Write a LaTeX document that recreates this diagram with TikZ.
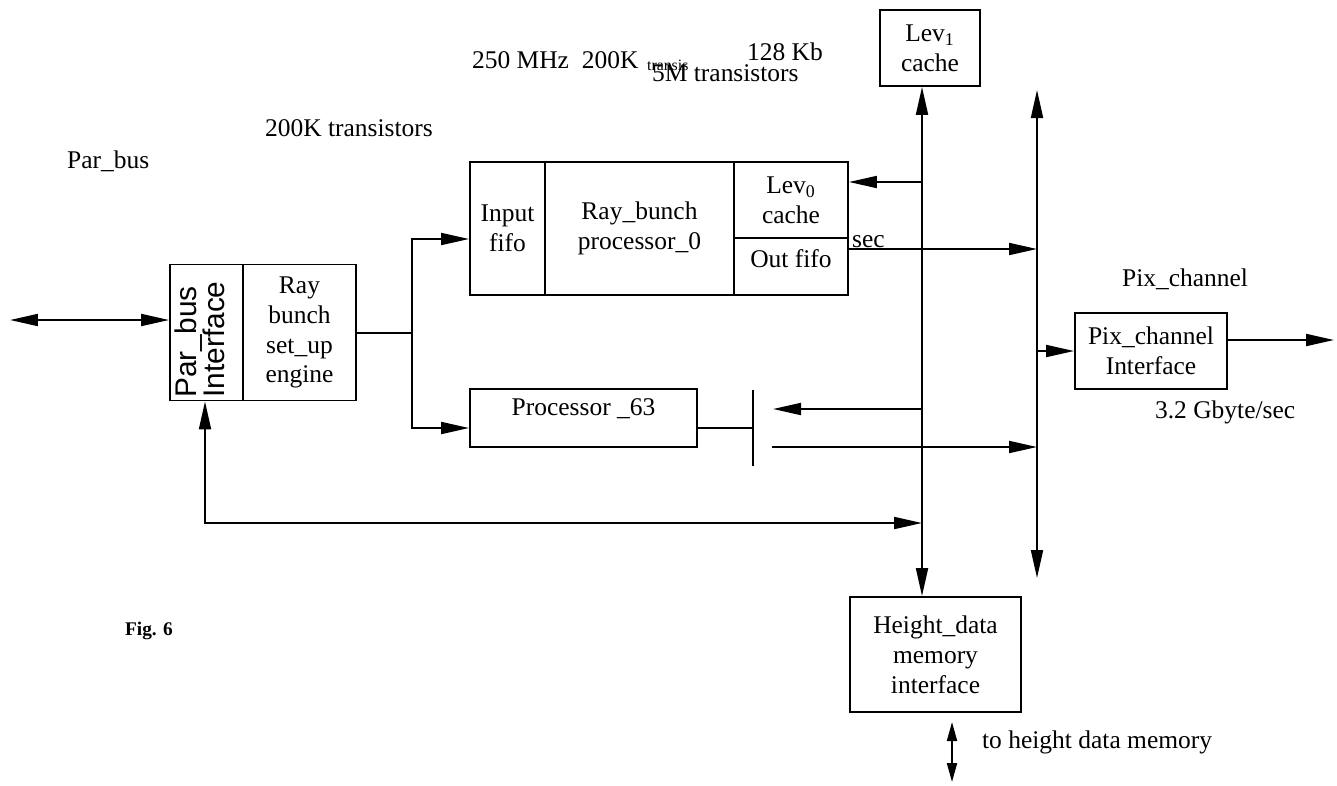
\documentclass[tikz,border=0pt]{standalone}
\usepackage{fontspec}
\setmainfont{Liberation Serif}
\setsansfont{Liberation Sans}
\usetikzlibrary{arrows.meta,positioning}

\begin{document}
\begin{tikzpicture}[x=0.02cm,y=-0.02cm,
  every node/.style={inner sep=1pt,font=\fontsize{14.5}{17}\selectfont},
  blk/.style={draw,line width=1.1pt,align=center,inner sep=0pt},
  lab/.style={anchor=base west},
  wire/.style={line width=1.1pt},
  conn/.style={wire,-{Triangle[length=5.6mm,width=2.4mm]}},
  dconn/.style={wire,{Triangle[length=5.6mm,width=2.4mm]}-{Triangle[length=5.6mm,width=2.4mm]}},
  sconn/.style={wire,{Triangle[length=3.8mm,width=2mm]}-{Triangle[length=3.8mm,width=2mm]}},
]
  \useasboundingbox (0,0) rectangle (1337,785);
  % ============ interface and set-up engine ============
  \node[blk,minimum width=1.46cm,minimum height=2.72cm] (pbi) at (206.5,332.5) {};
  \node[rotate=90,anchor=west,align=left,inner sep=0pt,font=\sffamily\fontsize{17}{16}\selectfont] (pbitxt) at (200,398) {Par\_bus\\Interface};
  \node[blk,minimum width=2.26cm,minimum height=2.72cm] (rbe) at (299.5,332.5) {Ray\\bunch\\set\_up\\engine};
  % ============ processor 0 ============
  \node[blk,minimum width=1.5cm,minimum height=2.66cm] (infifo) at (507.5,228.5) {Input\\fifo};
  \node[blk,minimum width=3.78cm,minimum height=2.66cm] (rbp) at (639.5,228.5) {Ray\_bunch\\processor\_0};
  \node[blk,minimum width=2.28cm,minimum height=1.52cm] (levz) at (791,200) {Lev\textsubscript{0}\\cache};
  \node[blk,minimum width=2.28cm,minimum height=1.14cm,text depth=9pt] (outf) at (791,266.5) {Out fifo};
  % ============ processor 63 ============
  \node[blk,minimum width=4.54cm,minimum height=1.16cm,text depth=12pt] (pstz) at (583.5,418) {Processor \_63};
  % ============ caches and interfaces ============
  \node[blk,minimum width=2cm,minimum height=1.52cm] (levone) at (930,48) {Lev\textsubscript{1}\\cache};
  \node[blk,minimum width=3.04cm,minimum height=1.52cm] (pix) at (1151,351) {Pix\_channel\\Interface};
  \node[blk,minimum width=3.42cm,minimum height=2.3cm] (hdm) at (935.5,654.5) {Height\_data\\memory\\interface};
  % bus points
  \coordinate (parend) at (10,320);
  \coordinate (fork) at (412,333);
  \coordinate (busA) at (922,0);
  \coordinate (busB) at (1037,0);
  \coordinate (busBtop) at (1037,90);
  \coordinate (busBbot) at (1037,578);
  \coordinate (levin) at (922,182);
  \coordinate (outin) at (1037,249);
  \coordinate (barT) at (753,390);
  \coordinate (barB) at (753,466);
  \coordinate (pline) at ([yshift=-0.2cm]pstz.east);
  \coordinate (pin) at (922,409);
  \coordinate (pinend) at (773,409);
  \coordinate (pout) at (772,447);
  \coordinate (poutend) at (1037,447);
  \coordinate (fbk) at (205,523);
  \coordinate (fbkend) at (922,523);
  \coordinate (pixout) at (1334,340);
  \coordinate (memT) at (952,722);
  \coordinate (memB) at (952,782);
  % ============ connectors ============
  \draw[dconn] (parend) -- (pbi.west |- parend);
  \draw[wire] (rbe.east |- fork) -- (fork);
  \draw[conn] (fork) |- ([yshift=-0.21cm]infifo.west);
  \draw[conn] (fork) |- ([yshift=-0.2cm]pstz.west);
  \draw[conn] (levin) -- (levin -| levz.east);
  \draw[conn] (outf.east |- outin) -- (outin);
  \draw[wire] (pline) -- (pline -| barT);
  \draw[wire] (barT) -- (barB);
  \draw[conn] (pin) -- (pinend);
  \draw[conn] (pout) -- (poutend);
  \draw[dconn] (levone.south -| busA) -- (hdm.north -| busA);
  \draw[dconn] (busBtop) -- (busBbot);
  \draw[conn] (busB |- pix.west) -- (pix.west);
  \draw[conn] (pix.east |- pixout) -- (pixout);
  \draw[dconn] (pbi.south -| fbk) |- (fbkend);
  \draw[sconn] (memT) -- (memB);
  % ============ labels ============
  \node[lab] (secl) at (850,247) {sec};
  \node[lab] (parlab) at (65,168) {Par\_bus};
  \node[lab] (trlab) at (263,136) {200K transistors};
  \node[lab] (mhz) at (470,68) {250 MHz\ \ 200K};
  \node[lab,font=\fontsize{9}{10}\selectfont] (tiny) at (645,70) {transis};
  \node[lab] (kb) at (745,60) {128 Kb};
  \node[lab] (fivem) at (650,81) {5M transistors};
  \node[lab] (pixlab) at (1120,286) {Pix\_channel};
  \node[lab] (gbs) at (1153,418) {3.2 Gbyte/sec};
  \node[lab] (tomem) at (980,748) {to height data memory};
  \node[lab,font=\bfseries\fontsize{11}{13}\selectfont] (fig) at (123,635) {Fig. 6};
\end{tikzpicture}
\end{document}
